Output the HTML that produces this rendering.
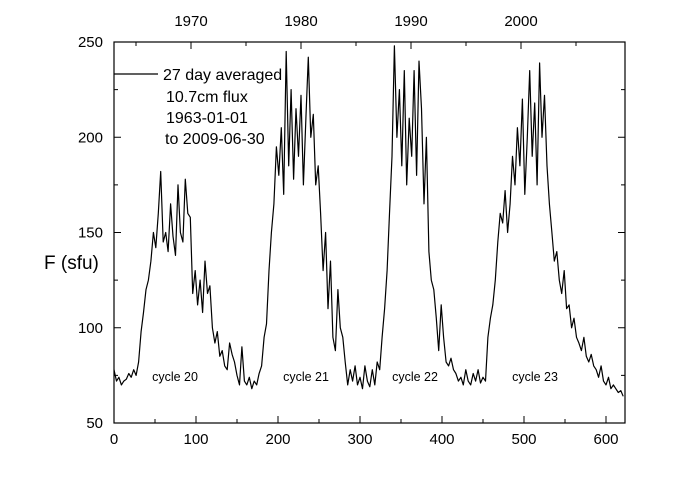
<!DOCTYPE html>
<html><head><meta charset="utf-8"><style>
body{margin:0;background:#fff;}
svg text{font-family:"Liberation Sans",sans-serif;fill:#000;}
</style></head><body>
<svg id="chart" width="692" height="491" viewBox="0 0 692 491" xmlns="http://www.w3.org/2000/svg">
<rect x="0" y="0" width="692" height="491" fill="#fff"/>
<g id="axes"></g>
<path id="series" fill="none" stroke="#000" stroke-width="1.2" stroke-linejoin="round"/>
<rect x="114" y="42" width="511" height="381" fill="none" stroke="#000" stroke-width="1.2"/>
<line x1="114" y1="74" x2="158" y2="74" stroke="#000" stroke-width="1.2"/>
<text x="163" y="80" font-size="16">27 day averaged</text>
<text x="166" y="102" font-size="16">10.7cm flux</text>
<text x="166" y="123" font-size="16">1963-01-01</text>
<text x="165" y="144" font-size="16">to 2009-06-30</text>
<text x="44" y="269" font-size="19">F (sfu)</text>
<text x="175" y="381" font-size="12.5" text-anchor="middle">cycle 20</text>
<text x="306" y="381" font-size="12.5" text-anchor="middle">cycle 21</text>
<text x="415" y="381" font-size="12.5" text-anchor="middle">cycle 22</text>
<text x="535" y="381" font-size="12.5" text-anchor="middle">cycle 23</text>
</svg>
<script>
const xStep = 3;
const fluxValues = [
78,72,74,70,72,73,76,74,78,75,
82,98,108,120,125,135,150,142,160,182,
145,150,140,165,148,138,175,150,145,178,
160,158,118,130,112,125,108,135,118,122,
100,92,98,85,88,80,78,92,86,82,
75,70,90,72,70,74,68,72,70,76,
80,95,102,130,150,165,195,180,205,170,
245,185,225,178,215,190,222,175,210,242,
200,212,175,185,160,130,150,110,135,95,
88,120,100,95,82,70,78,72,80,70,
74,68,80,72,69,78,70,82,78,95,
110,130,160,190,248,200,225,185,235,175,
210,190,235,180,240,215,165,200,140,125,
120,105,88,112,95,82,80,84,78,76,
72,74,70,78,72,70,76,72,78,71,
74,72,95,105,112,125,145,160,155,172,
150,165,190,175,205,185,220,170,200,235,
190,218,175,239,200,222,185,165,150,135,
140,125,118,130,110,112,100,105,95,92,
88,95,85,82,86,80,78,74,80,72,
70,74,68,70,68,66,67,64
];
const xTickLabels = [0,100,200,300,400,500,600];
const yTickLabels = [50,100,150,200,250];
const yearLabels = [1970,1980,1990,2000];

const X0=114, XS=0.82, Y0=423, YS=1.905;
function xs(v){return X0+v*XS;}
function ys(v){return Y0-(v-50)*YS;}
function yearX(y){return 191+(y-1970)*11;}

const NS="http://www.w3.org/2000/svg";
const axes=document.getElementById('axes');
function ln(x1,y1,x2,y2,name){
  const l=document.createElementNS(NS,'line');
  l.setAttribute('x1',x1);l.setAttribute('y1',y1);l.setAttribute('x2',x2);l.setAttribute('y2',y2);
  l.setAttribute('stroke','#000');l.setAttribute('stroke-width','1');
  
  
  axes.appendChild(l);
}
function tx(x,y,s,anchor,size,name){
  const t=document.createElementNS(NS,'text');
  t.setAttribute('x',x);t.setAttribute('y',y);t.setAttribute('text-anchor',anchor);t.setAttribute('font-size',size);
  t.textContent=s;
  
  
  axes.appendChild(t);
}
for(let v=0;v<=600;v+=50){
  const len=v%100===0?7:4;
  ln(xs(v),Y0,xs(v),Y0-len,'x-tick');
}
xTickLabels.forEach(v=>tx(xs(v),444,String(v),'middle',15,'x-tick-label'));
for(let v=50;v<=250;v+=25){
  const len=v%50===0?7:4;
  ln(X0,ys(v),X0+len,ys(v),'y-tick');
  ln(625,ys(v),625-len,ys(v),'y-tick-right');
}
yTickLabels.forEach(v=>tx(103,ys(v)+5,String(v),'end',15,'y-tick-label'));
for(let y=1965;y<=2005;y+=5){
  const len=y%10===0?7:4;
  ln(yearX(y),42,yearX(y),42+len,'top-year-tick');
}
yearLabels.forEach(y=>tx(yearX(y),26,String(y),'middle',15,'top-year-label'));

let d='';
fluxValues.forEach((v,i)=>{d+=(i?'L':'M')+xs(i*xStep).toFixed(1)+','+ys(v).toFixed(1);});
document.getElementById('series').setAttribute('d',d);
</script>
</body></html>
